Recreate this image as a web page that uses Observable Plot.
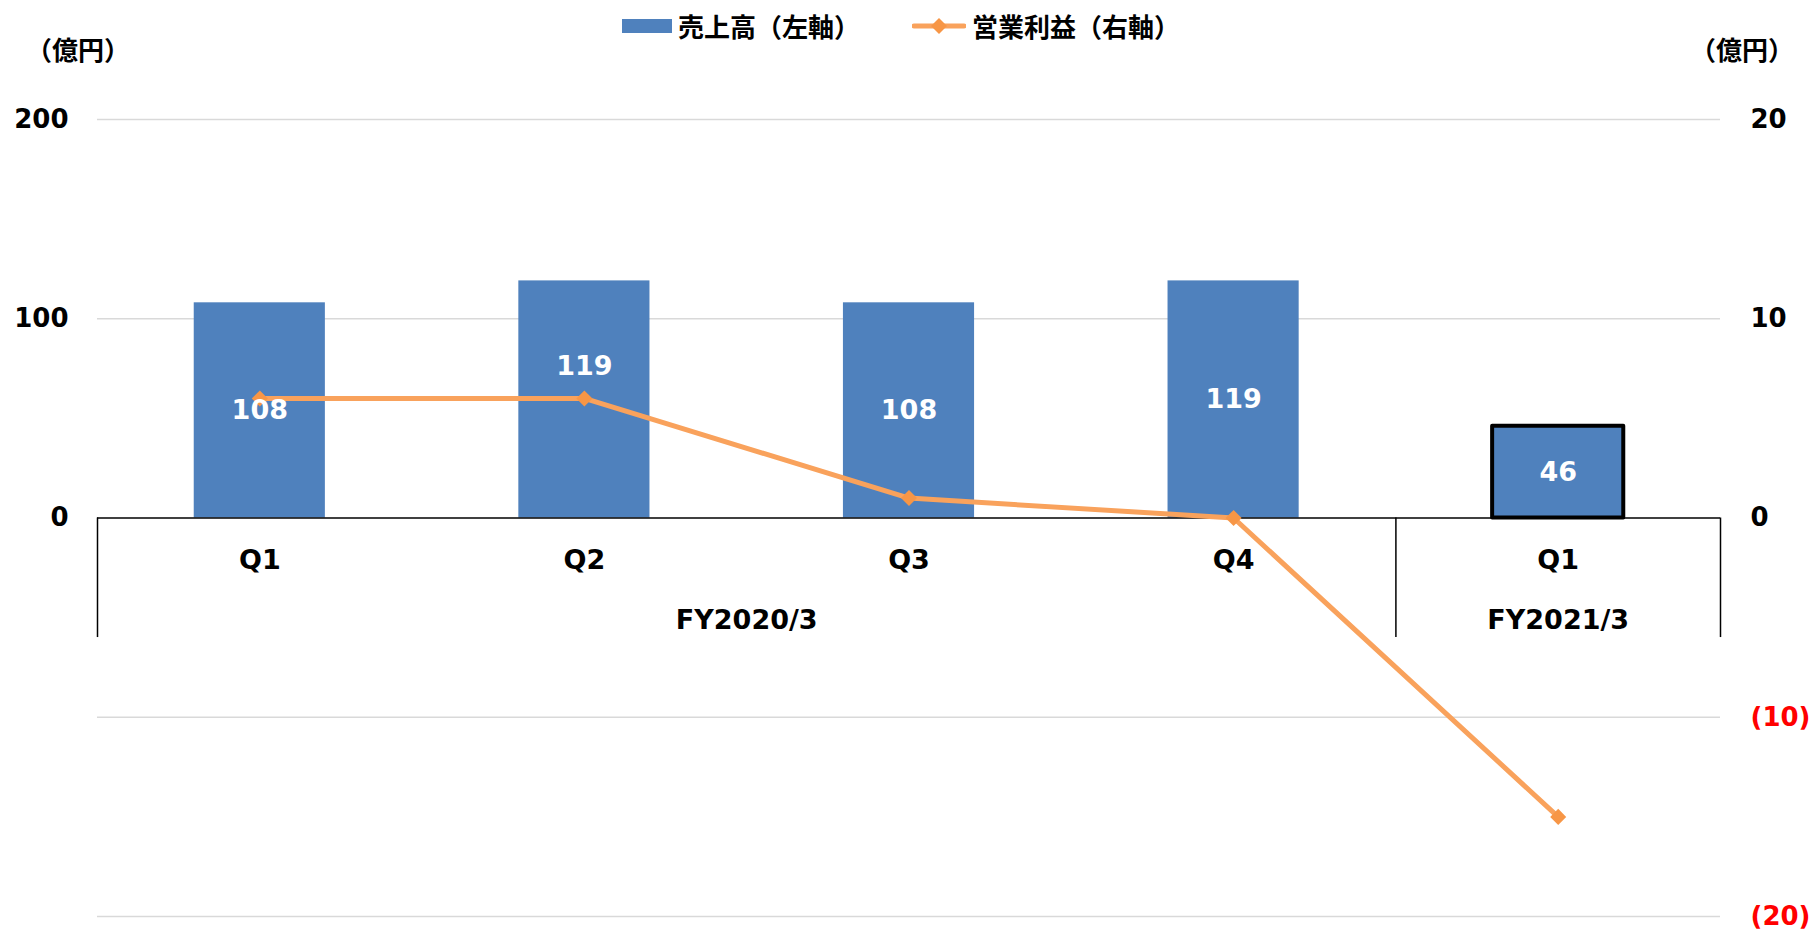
<!DOCTYPE html>
<html>
<head>
<meta charset="utf-8">
<script src="https://cdn.jsdelivr.net/npm/d3@7"></script>
<script src="https://cdn.jsdelivr.net/npm/@observablehq/plot@0.6"></script>
<style>
  html, body { margin: 0; padding: 0; background: #fff; }
  #wrap { position: relative; width: 1816px; height: 932px; }
  .cjk { font-family: "Noto Sans CJK JP", sans-serif; font-weight: bold; font-size: 26px; color: #000; position: absolute; line-height: 1; white-space: nowrap; }
  #legend { position: absolute; top: 12px; left: 622px; display: flex; align-items: center; }
  #legend .item { display: flex; align-items: center; }
  #legend span.t { font-family: "Noto Sans CJK JP", sans-serif; font-weight: bold; font-size: 26px; line-height: 1; }
</style>
</head>
<body>
<div id="wrap">
  <div id="legend"></div>
  <div class="cjk" style="left:26px; top:36px;">（億円）</div>
  <div class="cjk" style="left:1690px; top:36px;">（億円）</div>
</div>
<script>
// ---- data ----
const categories = ["Q1", "Q2", "Q3", "Q4", "Q1"];
const fiscalYears = ["FY2020/3", "FY2020/3", "FY2020/3", "FY2020/3", "FY2021/3"];
const sales = [108, 119, 108, 119, 46];          // 売上高（左軸, 億円）
const operatingProfit = [6, 6, 1, 0, -15];        // 営業利益（右軸, 億円）
const leftTicks = [0, 100, 200];
const rightTicks = [20, 10, 0, -10, -20];
const seriesNames = ["売上高（左軸）", "営業利益（右軸）"];

const BLUE = "#4F81BD", ORANGE = "#F9A25C", ORANGE_MARK = "#F79646";
const ratio = 200 / 20; // left axis units per right axis unit

const rows = categories.map((c, i) => ({i, cat: c, fy: fiscalYears[i], sales: sales[i], op: operatingProfit[i]}));
const lastIdx = rows.length - 1;

// fiscal-year groups
const groups = [];
rows.forEach(r => {
  const g = groups[groups.length - 1];
  if (g && g.name === r.fy) g.end = r.i; else groups.push({name: r.fy, start: r.i, end: r.i});
});
groups.forEach(g => g.mid = (g.start + g.end) / 2);
const boundaries = [-0.5, ...groups.map(g => g.end + 0.5)];

const half = 0.202;
const diamond = {
  draw(ctx, size) {
    const h = Math.sqrt(size / 2);
    ctx.moveTo(0, -h); ctx.lineTo(h, 0); ctx.lineTo(0, h); ctx.lineTo(-h, 0); ctx.closePath();
  }
};
const textFont = {fontFamily: "DejaVu Sans", fontWeight: "bold"};

const chart = Plot.plot({
  width: 1816,
  height: 932,
  marginTop: 119,
  marginBottom: 16,
  marginLeft: 97,
  marginRight: 96,
  x: {type: "linear", domain: [-0.5, rows.length - 0.5], axis: null},
  y: {domain: [-200, 200], axis: null},
  style: {fontFamily: "DejaVu Sans", fontWeight: "bold", background: "#fff"},
  marks: [
    Plot.ruleY([-200, -100, 100, 200], {stroke: "#d9d9d9", strokeWidth: 1.5}),
    Plot.rectY(rows.filter(d => d.i !== lastIdx), {x1: d => d.i - half, x2: d => d.i + half, y1: 0, y2: "sales", fill: BLUE}),
    Plot.rectY(rows.filter(d => d.i === lastIdx), {x1: d => d.i - half, x2: d => d.i + half, y1: 0, y2: "sales", fill: BLUE, stroke: "#000", strokeWidth: 4, strokeLinejoin: "round"}),
    Plot.ruleY([0], {stroke: "#000", strokeWidth: 1.5}),
    Plot.ruleX(boundaries, {y1: 0, y2: -60, stroke: "#000", strokeWidth: 1.5}),
    Plot.text(rows, {x: "i", y: 0, dy: 42, text: "cat", fontSize: 27, fill: "#000", ...textFont}),
    Plot.text(groups, {x: "mid", y: 0, dy: 102, text: "name", fontSize: 27, fill: "#000", ...textFont}),
    Plot.line(rows, {x: "i", y: d => d.op * ratio, stroke: ORANGE, strokeWidth: 5}),
    Plot.dot(rows, {x: "i", y: d => d.op * ratio, symbol: diamond, r: 6.4, fill: ORANGE_MARK, stroke: null}),
    Plot.text(rows.filter(d => d.i !== 1), {x: "i", y: d => d.sales / 2, text: d => String(d.sales), fill: "#fff", fontSize: 27, ...textFont}),
    Plot.text(rows.filter(d => d.i === 1), {x: "i", y: d => d.sales / 2, dy: -33, text: d => String(d.sales), fill: "#fff", fontSize: 27, ...textFont}),
    Plot.axisY({ticks: leftTicks, anchor: "left", tickSize: 0, tickPadding: 29, fontSize: 26, label: null, fill: "#000", ...textFont}),
    Plot.axisY({ticks: rightTicks.filter(v => v >= 0).map(v => v * ratio), anchor: "right", tickSize: 0, tickPadding: 30, fontSize: 26, label: null, fill: "#000", tickFormat: d => String(d / ratio), ...textFont}),
    Plot.axisY({ticks: rightTicks.filter(v => v < 0).map(v => v * ratio), anchor: "right", tickSize: 0, tickPadding: 30, fontSize: 26, label: null, fill: "#FF0000", tickFormat: d => `(${-d / ratio})`, ...textFont})
  ]
});
document.getElementById("wrap").prepend(chart);
chart.style.position = "absolute";
chart.style.left = "0";
chart.style.top = "0";

// legend
const legend = document.getElementById("legend");
legend.innerHTML = `
  <div class="item">
    <svg width="50" height="28"><rect x="0" y="7" width="50" height="14" fill="${BLUE}"/></svg>
    <span class="t" style="margin-left:6px">${seriesNames[0]}</span>
  </div>
  <div class="item" style="margin-left:52px">
    <svg width="54" height="28"><line x1="2" y1="14" x2="52" y2="14" stroke="${ORANGE}" stroke-width="5" stroke-linecap="round"/><path d="M27,6 L35,14 L27,22 L19,14 Z" fill="${ORANGE_MARK}"/></svg>
    <span class="t" style="margin-left:6px">${seriesNames[1]}</span>
  </div>`;
</script>
</body>
</html>
